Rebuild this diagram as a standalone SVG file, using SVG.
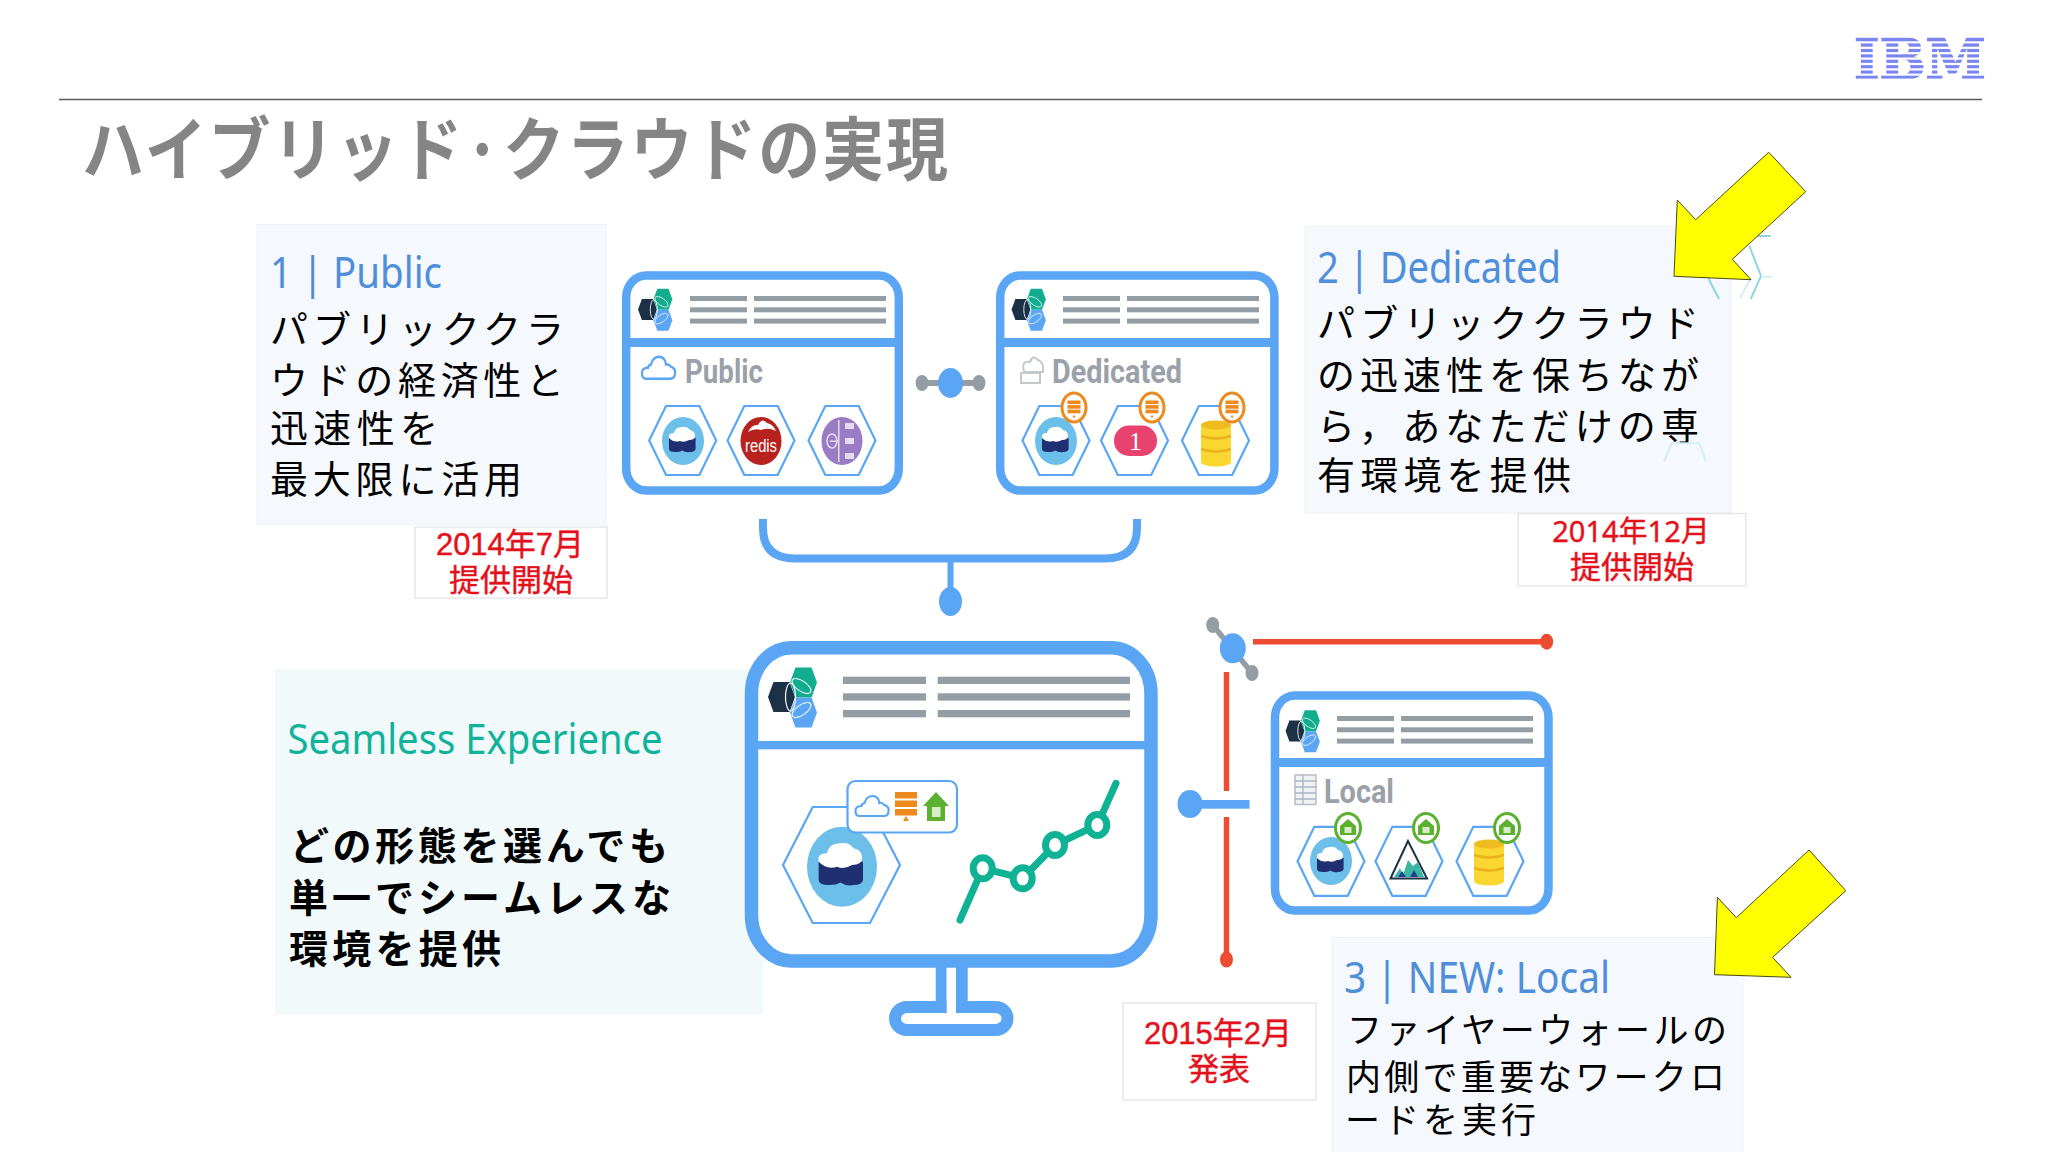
<svg xmlns="http://www.w3.org/2000/svg" xmlns:xlink="http://www.w3.org/1999/xlink" width="2048" height="1152" viewBox="0 0 2048 1152">
<style>
.jp{font-family:"Noto Sans CJK JP",sans-serif;font-size:38px;fill:#000}
.jpb{font-family:"Noto Sans CJK JP",sans-serif;font-size:39px;fill:#000;font-weight:700}
.jps{font-family:"Noto Sans CJK JP",sans-serif;font-size:35px;fill:#000}
.hd{font-family:"Noto Sans","Noto Sans CJK JP",sans-serif;font-size:43px;fill:#4f8fd9}
.sm{font-family:"Noto Sans",sans-serif;font-size:42px;fill:#10b39a}
.dt{font-family:"Liberation Sans","Noto Sans CJK JP",sans-serif;font-size:31px;fill:#e4111b;stroke:#e4111b;stroke-width:.4;text-anchor:middle}
.pl{font-family:"Roboto","Liberation Sans",sans-serif;font-size:34px;font-weight:700;fill:#9aa1a8}
.box{fill:#f5f8fc;stroke:#eff2f7;stroke-width:1}
.date{fill:#fff;stroke:#e6e6e6;stroke-width:1.5}
.frame{fill:#fff;stroke:#5aa5f4}
.bl{fill:#5aa5f4}
.gr{fill:#959da4}
.hexo{fill:none;stroke:#5aa5f4;stroke-width:2.2}
.red{stroke:#ee4b33;stroke-width:5.5;fill:none}
.rdot{fill:#ee4b33}
.arrow{fill:#ffff00;stroke:#4a4a10;stroke-width:1}
.frag{fill:none;stroke:#8fd5e6;stroke-width:2}
.fragl{fill:none;stroke:#d3eef4;stroke-width:2}
.icon{fill:none;stroke:#5aa5f4;stroke-width:2.2}
</style>
<defs>
<path id="hex" d="M-16.7,-34.5H16.7L33.5,0L16.7,34.5H-16.7L-33.5,0Z" class="hexo"/>
<path id="lhex" d="M-8,-15H8L13.5,0L8,15H-8L-13.5,0Z"/>
<g id="logo">
  <use href="#lhex" x="0" y="0" fill="#1c3146"/>
  <use href="#lhex" x="22" y="-14.5" fill="#12ad8f"/>
  <use href="#lhex" x="22" y="15.5" fill="#5aa5f4"/>
  <ellipse cx="9" cy="0" rx="5" ry="14" fill="none" stroke="#fff" stroke-width="1.2"/>
  <ellipse cx="20" cy="-11" rx="11" ry="5" fill="none" stroke="#fff" stroke-width="1" transform="rotate(35 20 -11)"/>
  <ellipse cx="20" cy="13" rx="11" ry="5" fill="none" stroke="#fff" stroke-width="1" transform="rotate(-35 20 13)"/>
</g>
<g id="pod">
  <ellipse rx="21" ry="24" fill="#6cbfe8"/>
  <path d="M-14,-3V8Q-14,11 -8,11Q-3,11 -1,9.5Q3,12 7,11Q12,11 12.6,8V-3Z" fill="#1f2f72"/>
  <path d="M-14,-3Q-15,-8 -9,-8Q-8,-14 -1,-14Q4,-15 7,-11Q12,-10 12,-5Q12,-1 6,-1Q1,2 -3,0Q-9,2 -14,-3Z" fill="#fff"/>
</g>
<g id="cyl">
  <rect x="-15" y="-18" width="30" height="37" fill="#f9d730"/>
  <ellipse cy="-18" rx="15" ry="4.5" fill="#eebc1e"/>
  <ellipse cy="19" rx="15" ry="4.5" fill="#f9d730"/>
  <path d="M-15,-7Q0,-2 15,-7M-15,6Q0,11 15,6" fill="none" stroke="#e8b31c" stroke-width="2.5"/>
</g>
<g id="srv">
  <rect x="-6.5" y="-7" width="13" height="3.6" fill="#ee8a1d"/>
  <rect x="-6.5" y="-2.4" width="13" height="3.6" fill="#ee8a1d"/>
  <rect x="-6.5" y="2.2" width="13" height="3.6" fill="#ee8a1d"/>
  <path d="M-1.5,10H1.5L0,7Z" fill="#ee8a1d"/>
</g>
<g id="obadge">
  <ellipse rx="12" ry="14.5" fill="#fff" stroke="#ee8a1d" stroke-width="3"/>
  <use href="#srv"/>
</g>
<path id="house" d="M0,-9L8,-2V7H-8V-2Z" fill="#5bb030"/>
<g id="gbadge">
  <ellipse rx="12.5" ry="14.5" fill="#fff" stroke="#5bb030" stroke-width="3"/>
  <use href="#house"/>
  <rect x="-3.5" y="-1" width="7" height="6" fill="#d9ecc9"/>
</g>
<path id="cloud" d="M-13,8Q-17,8 -17,3Q-17,-2 -11,-2Q-11,-4 -8,-5Q-6,-12 0,-12Q6,-12 7,-5Q9,-6 12,-3Q17,-1 16,3Q16,8 11,8Z" class="icon"/>
<g id="lines">
  <rect x="0" y="0" width="57" height="5" class="gr"/>
  <rect x="0" y="11.3" width="57" height="5" class="gr"/>
  <rect x="0" y="22.6" width="57" height="5" class="gr"/>
  <rect x="64" y="0" width="132" height="5" class="gr"/>
  <rect x="64" y="11.3" width="132" height="5" class="gr"/>
  <rect x="64" y="22.6" width="132" height="5" class="gr"/>
</g>
</defs>
<rect width="2048" height="1152" fill="#fff"/>

<g id="header">
  <line x1="59" y1="99.5" x2="1982" y2="99.5" stroke="#5a5a5a" stroke-width="1.6"/>
  <text transform="translate(82,175) scale(1,1.12)" font-family="Noto Sans CJK JP,sans-serif" font-size="62" font-weight="700" fill="#858585" textLength="866">ハイブリッド·クラウドの実現</text>
</g>
<g id="ibm-logo">
  <text x="1854" y="78.5" font-family="DejaVu Serif,serif" font-weight="700" font-size="56" fill="#7b86f0" stroke="#7b86f0" stroke-width="1.6" textLength="132" lengthAdjust="spacingAndGlyphs">IBM</text>
  <g fill="#fff">
    <rect x="1850" y="41.3" width="140" height="2.1"/><rect x="1850" y="46.7" width="140" height="2.2"/><rect x="1850" y="52.1" width="140" height="2.2"/><rect x="1850" y="57.5" width="140" height="2.2"/><rect x="1850" y="62.9" width="140" height="2.2"/><rect x="1850" y="68.3" width="140" height="2.2"/><rect x="1850" y="73.6" width="140" height="2.1"/>
    <rect x="1850" y="30" width="140" height="7.7"/><rect x="1850" y="78.6" width="140" height="6"/>
  </g>
</g>

<g id="note-public">
  <rect class="box" x="257" y="224.5" width="349" height="300"/>
  <text class="hd" x="270" y="288" textLength="172" lengthAdjust="spacingAndGlyphs">1 | Public</text>
  <text class="jp" x="270" y="343" textLength="294">パブリッククラ</text>
  <text class="jp" x="270" y="394" textLength="294">ウドの経済性と</text>
  <text class="jp" x="270" y="442" textLength="168">迅速性を</text>
  <text class="jp" x="270" y="493" textLength="252">最大限に活用</text>
</g>
<g id="date-public">
  <rect class="date" x="415" y="527" width="192" height="71"/>
  <text class="dt" x="510" y="554.5">2014年7月</text>
  <text class="dt" x="511" y="591">提供開始</text>
</g>

<g id="note-dedicated">
  <rect class="box" x="1305" y="226" width="426" height="287"/>
  <text class="hd" x="1317" y="283" textLength="244" lengthAdjust="spacingAndGlyphs">2 | Dedicated</text>
  <text class="jp" x="1317" y="337" textLength="382">パブリッククラウド</text>
  <text class="jp" x="1317" y="389" textLength="382">の迅速性を保ちなが</text>
  <text class="jp" x="1317" y="440" textLength="382">ら，あなただけの専</text>
  <text class="jp" x="1317" y="489" textLength="254">有環境を提供</text>
  <g id="stray-hex">
    <path class="frag" d="M1749.3,246L1761,276L1750.7,299M1708.3,278.3L1719,299M1756.7,236H1771"/>
    <path class="fragl" d="M1740,298.3L1750.7,278.3M1761,276.7H1772M1664,461.7L1671.7,443.3H1699.3L1706,461.7"/>
  </g>
</g>
<g id="date-dedicated">
  <rect class="date" x="1518" y="513.5" width="228" height="72.5"/>
  <text class="dt" x="1631" y="542" style="font-family:'Noto Sans','Noto Sans CJK JP',sans-serif;font-size:29px">2014年12月</text>
  <text class="dt" x="1632" y="578">提供開始</text>
</g>
<polygon id="arrow-dedicated" class="arrow" points="1768.7,152.3 1805.7,191.7 1732.3,259.3 1751,279.7 1674,276.3 1677.3,200 1695.7,219.7"/>

<g id="note-seamless">
  <rect x="275" y="669" width="488" height="346" fill="#f1f9fa"/>
  <text class="sm" x="287.5" y="753.5" textLength="375" lengthAdjust="spacingAndGlyphs">Seamless Experience</text>
  <text class="jpb" x="290" y="860" textLength="378">どの形態を選んでも</text>
  <text class="jpb" x="289" y="912" textLength="382">単一でシームレスな</text>
  <text class="jpb" x="289" y="963" textLength="212">環境を提供</text>
</g>

<g id="connectors">
  <g id="link-public-dedicated">
    <line x1="922" y1="383" x2="979" y2="383" stroke="#959da4" stroke-width="6"/>
    <ellipse class="gr" cx="922" cy="383" rx="6.5" ry="8"/>
    <ellipse class="gr" cx="979" cy="383" rx="6.5" ry="8"/>
    <ellipse class="bl" cx="950.5" cy="383" rx="12.5" ry="15"/>
  </g>
  <g id="bracket">
    <path d="M763,519V528Q763,558.5 795,558.5H1105Q1137,558.5 1137,528V519" fill="none" stroke="#5aa5f4" stroke-width="8"/>
    <line x1="950.5" y1="558" x2="950.5" y2="600" stroke="#5aa5f4" stroke-width="6"/>
    <ellipse class="bl" cx="950.5" cy="601.5" rx="11.5" ry="14.5"/>
  </g>
  <g id="link-local">
    <line class="red" x1="1253" y1="641.7" x2="1546" y2="641.7"/>
    <ellipse class="rdot" cx="1546.7" cy="641.7" rx="6.5" ry="8"/>
    <line class="red" x1="1226.5" y1="672" x2="1226.5" y2="791"/>
    <line class="red" x1="1226.5" y1="817" x2="1226.5" y2="959"/>
    <ellipse class="rdot" cx="1226.5" cy="959.5" rx="6.5" ry="8"/>
    <line x1="1212.7" y1="625" x2="1252" y2="673" stroke="#959da4" stroke-width="5.5"/>
    <ellipse class="gr" cx="1212.7" cy="625" rx="6.5" ry="8"/>
    <ellipse class="gr" cx="1252" cy="673" rx="6.5" ry="8"/>
    <ellipse class="bl" cx="1232.8" cy="648.3" rx="13" ry="15"/>
    <rect class="bl" x="1195" y="800" width="54.5" height="8.7"/>
    <ellipse class="bl" cx="1190" cy="804" rx="12.5" ry="14"/>
  </g>
</g>

<g id="panel-public">
  <rect class="frame" x="626.2" y="275.5" width="272.6" height="215" rx="20" ry="22" stroke-width="8.5"/>
  <rect class="bl" x="626" y="338" width="273" height="9"/>
  <use href="#logo" transform="translate(647.5,309.5) scale(.7)"/>
  <use href="#lines" x="690" y="296"/>
  <use href="#cloud" transform="translate(659,370) scale(1,1.1)"/>
  <text class="pl" x="685" y="382.5" textLength="78" lengthAdjust="spacingAndGlyphs">Public</text>
  <use href="#hex" x="682.7" y="440.5"/>
  <use href="#hex" x="761" y="440.5"/>
  <use href="#hex" x="842" y="440.5"/>
  <use href="#pod" x="683" y="441"/>
  <ellipse cx="761" cy="441" rx="20.5" ry="24" fill="#b8221e"/>
  <path d="M748,432Q752,424 758,425Q762,417 767,423Q773,424 776,431Q768,427 761,430Q754,428 748,432Z" fill="#fff"/>
  <text x="745" y="452" font-family="Liberation Sans,sans-serif" font-size="18" fill="#fff" textLength="32" lengthAdjust="spacingAndGlyphs">redis</text>
  <ellipse cx="842" cy="441" rx="20.5" ry="24" fill="#9a7cc4"/>
  <g fill="#e5dcf1">
    <rect x="845" y="423" width="9" height="6"/><rect x="845" y="438" width="9" height="6"/><rect x="845" y="453" width="9" height="6"/>
    <rect x="838" y="420" width="1.5" height="42"/><rect x="830" y="440.5" width="8" height="1.5"/>
  </g>
  <ellipse cx="832" cy="441" rx="5" ry="7" fill="none" stroke="#e5dcf1" stroke-width="1.5"/>
</g>

<g id="panel-dedicated">
  <rect class="frame" x="1000.2" y="275.5" width="274.2" height="215" rx="20" ry="22" stroke-width="8.5"/>
  <rect class="bl" x="1000" y="338" width="274.5" height="9"/>
  <use href="#logo" transform="translate(1021,309.5) scale(.7)"/>
  <use href="#lines" x="1063" y="296"/>
  <g fill="none" stroke="#c3c8cc" stroke-width="2">
    <rect x="1021" y="373" width="19" height="10"/>
    <path d="M1024,372Q1021,360 1030,362Q1033,354 1038,360Q1044,362 1043,372Z"/>
  </g>
  <text class="pl" x="1052" y="382.5" textLength="130" lengthAdjust="spacingAndGlyphs">Dedicated</text>
  <use href="#hex" x="1056" y="440.5"/>
  <use href="#hex" x="1134.5" y="440.5"/>
  <use href="#hex" x="1215.5" y="440.5"/>
  <use href="#pod" x="1056" y="441"/>
  <rect x="1114" y="425.5" width="43" height="30.5" rx="15" ry="15" fill="#e8436e"/>
  <text x="1135.5" y="450" font-family="Liberation Serif,serif" font-size="26" fill="#fff" text-anchor="middle">1</text>
  <use href="#cyl" x="1216" y="443"/>
  <use href="#obadge" x="1074" y="407.5"/>
  <use href="#obadge" x="1152" y="407.5"/>
  <use href="#obadge" x="1232" y="407.5"/>
</g>

<g id="panel-monitor">
  <rect class="frame" x="895" y="1007" width="112.5" height="23" rx="12" ry="12" stroke-width="12"/>
  <rect class="bl" x="935.7" y="965" width="11" height="48"/>
  <rect class="bl" x="956" y="965" width="11.7" height="48"/>
  <rect x="946.7" y="968" width="9.3" height="50" fill="#fff"/>
  <rect class="frame" x="751.5" y="647.7" width="399.5" height="313.3" rx="40" ry="46" stroke-width="13.5"/>
  <rect class="bl" x="752" y="741" width="399" height="8.3"/>
  <use href="#logo" transform="translate(781.5,697)"/>
  <g class="gr">
    <rect x="843" y="676.7" width="83" height="7.3"/><rect x="843" y="693.3" width="83" height="7.3"/><rect x="843" y="710" width="83" height="7.3"/>
    <rect x="937.7" y="676.7" width="192.3" height="7.3"/><rect x="937.7" y="693.3" width="192.3" height="7.3"/><rect x="937.7" y="710" width="192.3" height="7.3"/>
  </g>
  <path d="M812.7,807H870L900,865L870,923H812.7L783,865Z" class="hexo"/>
  <use href="#pod" transform="translate(842,866.7) scale(1.667)"/>
  <rect x="847.5" y="781" width="109.5" height="51.5" rx="8" ry="8" fill="#fff" stroke="#5aa5f4" stroke-width="2.2"/>
  <use href="#cloud" transform="translate(872.5,808)"/>
  <g fill="#ee8a1d">
    <rect x="895" y="792" width="22" height="6.5"/><rect x="895" y="800.5" width="22" height="6.5"/><rect x="895" y="809" width="22" height="6.5"/>
    <path d="M903,821L906,816L909,821Z"/>
  </g>
  <path d="M936,792L949,806H945V821H927V806H923Z" fill="#5bb030"/>
  <rect x="932" y="807" width="8.5" height="10" fill="#d9ecc9"/>
  <polyline points="960,920 982.7,868.3 1022.7,878.3 1055,845 1097.3,825 1116,783.3" fill="none" stroke="#0fb294" stroke-width="7" stroke-linecap="round"/>
  <g fill="#fff" stroke="#0fb294" stroke-width="7">
    <ellipse cx="982.7" cy="868.3" rx="9.5" ry="10.5"/><ellipse cx="1022.7" cy="878.3" rx="9.5" ry="10.5"/><ellipse cx="1055" cy="845" rx="9.5" ry="10.5"/><ellipse cx="1097.3" cy="825" rx="9.5" ry="10.5"/>
  </g>
</g>

<g id="panel-local">
  <rect class="frame" x="1275" y="695.5" width="273.5" height="215" rx="20" ry="22" stroke-width="8.5"/>
  <rect class="bl" x="1275" y="758" width="273.5" height="9"/>
  <use href="#logo" transform="translate(1295,731) scale(.7)"/>
  <use href="#lines" x="1337" y="716"/>
  <g>
    <rect x="1295" y="775" width="21" height="29.5" fill="#f0f2f4" stroke="#b9bfc5" stroke-width="1.5"/>
    <path d="M1295,781H1316M1295,787H1316M1295,793H1316M1295,799H1316M1303,775V804" stroke="#a9b6c5" stroke-width="1.3" fill="none"/>
  </g>
  <text class="pl" x="1324" y="802.5" textLength="70" lengthAdjust="spacingAndGlyphs">Local</text>
  <use href="#hex" x="1331" y="861.3"/>
  <use href="#hex" x="1409" y="861.3"/>
  <use href="#hex" x="1490" y="861.3"/>
  <use href="#pod" x="1331" y="861"/>
  <path d="M1408,841L1390.5,878.5H1427Z" fill="#fff" stroke="#1c3146" stroke-width="2"/>
  <path d="M1394,877L1400,868L1403,875L1408,860L1413,866L1418,862L1424,877Z" fill="#3cb6a2"/>
  <path d="M1398,877L1402,871L1406,877ZM1410,877L1414,870L1418,877Z" fill="#1f3f8f"/>
  <use href="#cyl" x="1489" y="862"/>
  <use href="#gbadge" x="1348" y="828"/>
  <use href="#gbadge" x="1426" y="828"/>
  <use href="#gbadge" x="1507" y="828"/>
</g>

<g id="date-local">
  <rect class="date" x="1123" y="1003" width="193" height="97"/>
  <text class="dt" x="1218" y="1044">2015年2月</text>
  <text class="dt" x="1219" y="1080">発表</text>
</g>

<g id="note-local">
  <rect class="box" x="1332" y="937.5" width="411" height="215"/>
  <text class="hd" x="1344" y="992.5" textLength="266" lengthAdjust="spacingAndGlyphs">3 | NEW: Local</text>
  <text class="jps" x="1347" y="1043" textLength="380">ファイヤーウォールの</text>
  <text class="jps" x="1346" y="1090" textLength="379">内側で重要なワークロ</text>
  <text class="jps" x="1345" y="1133" textLength="191">ードを実行</text>
</g>
<polygon id="arrow-local" class="arrow" points="1809,850 1845.8,890.7 1772.6,957.3 1791,977.3 1714.5,974.7 1717.4,897.3 1736.3,917.7"/>
</svg>
